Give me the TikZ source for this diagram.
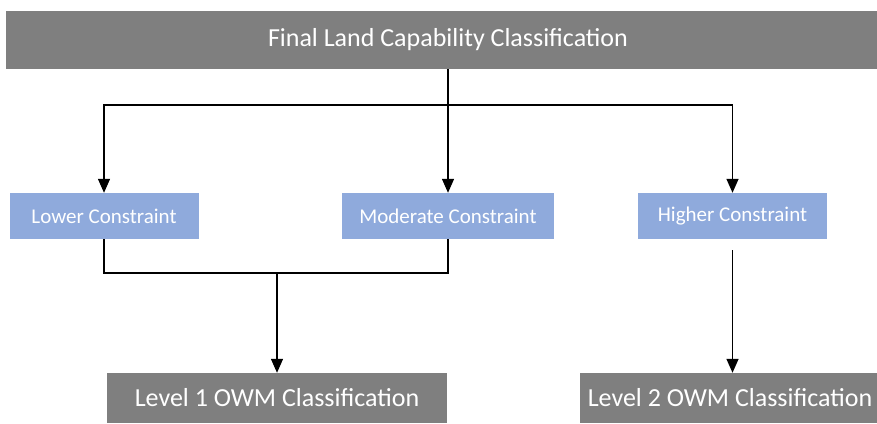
\documentclass[tikz,border=0pt]{standalone}
\usepackage{fontspec}
\setmainfont{Carlito}
\usetikzlibrary{arrows.meta}

\definecolor{boxgray}{HTML}{7F7F7F}
\definecolor{boxblue}{HTML}{8FAADC}

\tikzset{
  classbox/.style = {fill=boxgray, text=white, inner sep=0pt, font=\fontsize{26}{30}\selectfont},
  constbox/.style = {fill=boxblue, text=white, inner sep=0pt, minimum height=46pt, font=\fontsize{21}{25}\selectfont},
  flow/.style = {line width=1.4pt},
  arr/.style = {flow, -{Triangle[width=12pt,length=14pt]}}
}

\begin{document}
\begin{tikzpicture}[x=1pt, y=-1pt]

\useasboundingbox (0,0) rectangle (877,423);

% boxes (top and level 2 run past the right edge)
\node[classbox, minimum width=884pt, minimum height=58pt] (final) at (448,40) {Final Land Capability Classification};
\node[constbox, minimum width=189pt] (lower) at (104,216) {Lower Constraint};
\node[constbox, minimum width=212pt] (moderate) at (448,216) {Moderate Constraint};
\node[constbox, minimum width=189pt] (higher) at (732.5,216) {Higher Constraint};
\node[classbox, minimum width=340pt, minimum height=50pt] (levelone) at (277,398) {Level 1 OWM Classification};
\node[classbox, minimum width=300pt, minimum height=50pt] (leveltwo) at (730,398) {Level 2 OWM Classification};

% split below the top box
\coordinate (split) at (final.south |- 0,105);
\draw[arr] (final.south) -- (moderate.north);
\draw[arr] (split) -| (lower.north);
\draw[arr] (split) -| (higher.north);

% lower and moderate go to level 1
\coordinate (merge) at (levelone.north |- 0,273);
\draw[flow] (lower.south) |- (merge) -| (moderate.south);
\draw[arr] (merge) -- (levelone.north);

% higher goes to level 2
\draw[arr] ([yshift=-11pt]higher.south) -- (leveltwo.north -| higher.south);

\end{tikzpicture}
\end{document}
